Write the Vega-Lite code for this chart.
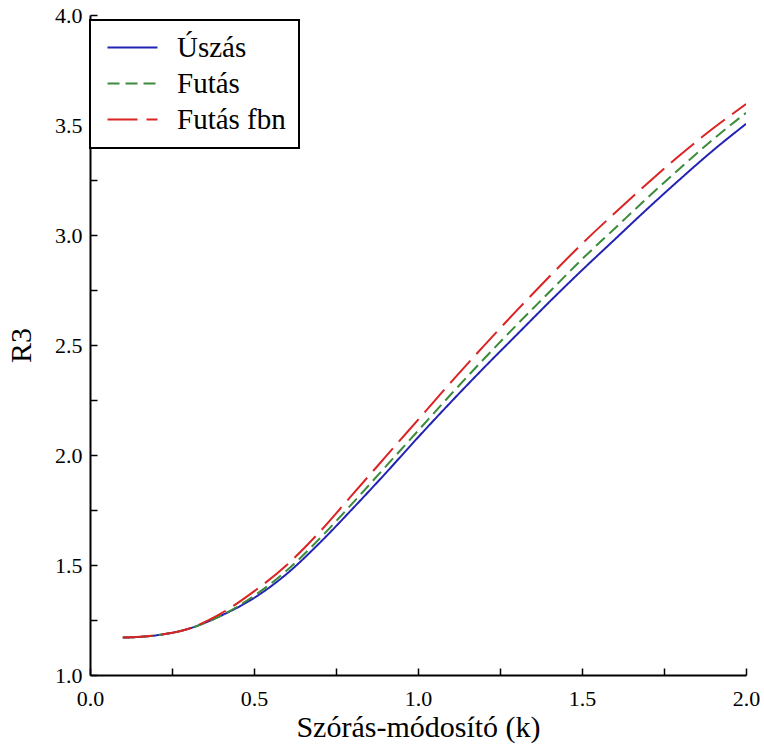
{
  "$schema": "https://vega.github.io/schema/vega-lite/v6.json",
  "width": 656,
  "height": 660,
  "autosize": "none",
  "padding": {"left": 90, "top": 15, "right": 18, "bottom": 72},
  "background": "white",
  "config": {
    "view": {"stroke": null},
    "font": "Liberation Serif, DejaVu Serif, serif"
  },
  "data": {
    "values": [
      {"k": 0.1, "R3": 1.17, "series": "Úszás"},
      {"k": 0.2, "R3": 1.18, "series": "Úszás"},
      {"k": 0.3, "R3": 1.21, "series": "Úszás"},
      {"k": 0.4, "R3": 1.27, "series": "Úszás"},
      {"k": 0.5, "R3": 1.35, "series": "Úszás"},
      {"k": 0.6, "R3": 1.46, "series": "Úszás"},
      {"k": 0.7, "R3": 1.6, "series": "Úszás"},
      {"k": 0.8, "R3": 1.755, "series": "Úszás"},
      {"k": 0.9, "R3": 1.915, "series": "Úszás"},
      {"k": 1.0, "R3": 2.08, "series": "Úszás"},
      {"k": 1.1, "R3": 2.24, "series": "Úszás"},
      {"k": 1.2, "R3": 2.395, "series": "Úszás"},
      {"k": 1.3, "R3": 2.545, "series": "Úszás"},
      {"k": 1.4, "R3": 2.695, "series": "Úszás"},
      {"k": 1.5, "R3": 2.84, "series": "Úszás"},
      {"k": 1.6, "R3": 2.98, "series": "Úszás"},
      {"k": 1.7, "R3": 3.12, "series": "Úszás"},
      {"k": 1.8, "R3": 3.255, "series": "Úszás"},
      {"k": 1.9, "R3": 3.385, "series": "Úszás"},
      {"k": 2.0, "R3": 3.505, "series": "Úszás"},
      {"k": 0.1, "R3": 1.17, "series": "Futás"},
      {"k": 0.2, "R3": 1.18, "series": "Futás"},
      {"k": 0.3, "R3": 1.21, "series": "Futás"},
      {"k": 0.4, "R3": 1.27, "series": "Futás"},
      {"k": 0.5, "R3": 1.36, "series": "Futás"},
      {"k": 0.6, "R3": 1.475, "series": "Futás"},
      {"k": 0.7, "R3": 1.62, "series": "Futás"},
      {"k": 0.8, "R3": 1.78, "series": "Futás"},
      {"k": 0.9, "R3": 1.945, "series": "Futás"},
      {"k": 1.0, "R3": 2.11, "series": "Futás"},
      {"k": 1.1, "R3": 2.275, "series": "Futás"},
      {"k": 1.2, "R3": 2.435, "series": "Futás"},
      {"k": 1.3, "R3": 2.59, "series": "Futás"},
      {"k": 1.4, "R3": 2.74, "series": "Futás"},
      {"k": 1.5, "R3": 2.89, "series": "Futás"},
      {"k": 1.6, "R3": 3.03, "series": "Futás"},
      {"k": 1.7, "R3": 3.17, "series": "Futás"},
      {"k": 1.8, "R3": 3.305, "series": "Futás"},
      {"k": 1.9, "R3": 3.435, "series": "Futás"},
      {"k": 2.0, "R3": 3.555, "series": "Futás"},
      {"k": 0.1, "R3": 1.17, "series": "Futás fbn"},
      {"k": 0.2, "R3": 1.18, "series": "Futás fbn"},
      {"k": 0.3, "R3": 1.21, "series": "Futás fbn"},
      {"k": 0.4, "R3": 1.28, "series": "Futás fbn"},
      {"k": 0.5, "R3": 1.38, "series": "Futás fbn"},
      {"k": 0.6, "R3": 1.5, "series": "Futás fbn"},
      {"k": 0.7, "R3": 1.65, "series": "Futás fbn"},
      {"k": 0.8, "R3": 1.82, "series": "Futás fbn"},
      {"k": 0.9, "R3": 1.99, "series": "Futás fbn"},
      {"k": 1.0, "R3": 2.16, "series": "Futás fbn"},
      {"k": 1.1, "R3": 2.33, "series": "Futás fbn"},
      {"k": 1.2, "R3": 2.495, "series": "Futás fbn"},
      {"k": 1.3, "R3": 2.655, "series": "Futás fbn"},
      {"k": 1.4, "R3": 2.81, "series": "Futás fbn"},
      {"k": 1.5, "R3": 2.96, "series": "Futás fbn"},
      {"k": 1.6, "R3": 3.1, "series": "Futás fbn"},
      {"k": 1.7, "R3": 3.235, "series": "Futás fbn"},
      {"k": 1.8, "R3": 3.365, "series": "Futás fbn"},
      {"k": 1.9, "R3": 3.485, "series": "Futás fbn"},
      {"k": 2.0, "R3": 3.595, "series": "Futás fbn"}
    ]
  },
  "mark": {"type": "line", "strokeWidth": 2, "interpolate": "monotone", "clip": true},
  "encoding": {
    "x": {
      "field": "k",
      "type": "quantitative",
      "scale": {"domain": [0, 2], "nice": false, "zero": false},
      "axis": {
        "title": "Szórás-módosító (k)",
        "values": [0, 0.25, 0.5, 0.75, 1, 1.25, 1.5, 1.75, 2],
        "labelExpr": "datum.value % 0.5 === 0 ? format(datum.value, '.1f') : ''",
        "grid": false,
        "domainColor": "black",
        "domainWidth": 2,
        "ticks": true,
        "tickColor": "black",
        "tickWidth": 1.5,
        "tickSize": -7,
        "labelFontSize": 22,
        "labelColor": "black",
        "labelPadding": 20,
        "labelFlush": false,
        "labelOverlap": false,
        "titleFontSize": 30,
        "titleFontWeight": "normal",
        "titleColor": "black",
        "titlePadding": 3
      }
    },
    "y": {
      "field": "R3",
      "type": "quantitative",
      "scale": {"domain": [1, 4], "nice": false, "zero": false},
      "axis": {
        "title": "R3",
        "values": [1, 1.25, 1.5, 1.75, 2, 2.25, 2.5, 2.75, 3, 3.25, 3.5, 3.75, 4],
        "labelExpr": "datum.value % 0.5 === 0 ? format(datum.value, '.1f') : ''",
        "grid": false,
        "domainColor": "black",
        "domainWidth": 2,
        "ticks": true,
        "tickColor": "black",
        "tickWidth": 1.5,
        "tickSize": -7,
        "labelFontSize": 22,
        "labelColor": "black",
        "labelPadding": 15,
        "labelFlush": false,
        "labelOverlap": false,
        "titleFontSize": 30,
        "titleFontWeight": "normal",
        "titleColor": "black",
        "titlePadding": 18
      }
    },
    "color": {
      "field": "series",
      "type": "nominal",
      "scale": {"domain": ["Úszás", "Futás", "Futás fbn"], "range": ["#2323b4", "#3a8c3a", "#dc2323"]},
      "legend": {
        "title": null,
        "orient": "none",
        "legendX": 0,
        "legendY": 5,
        "padding": 13,
        "symbolType": "M-2,0H2",
        "symbolSize": 625,
        "symbolStrokeWidth": 2,
        "symbolOffset": 15,
        "labelOffset": 30,
        "labelFontSize": 29,
        "labelColor": "black",
        "rowPadding": 6,
        "fillColor": "white",
        "strokeColor": "black",
        "encode": {"legend": {"update": {"strokeWidth": {"value": 2}}}}
      }
    },
    "strokeDash": {
      "field": "series",
      "type": "nominal",
      "scale": {"domain": ["Úszás", "Futás", "Futás fbn"], "range": [[1, 0], [12, 6], [30, 9]]},
      "legend": {
        "title": null,
        "orient": "none",
        "legendX": 0,
        "legendY": 5,
        "padding": 13,
        "symbolType": "M-2,0H2",
        "symbolSize": 625,
        "symbolStrokeWidth": 2,
        "symbolOffset": 15,
        "labelOffset": 30,
        "labelFontSize": 29,
        "labelColor": "black",
        "rowPadding": 6,
        "fillColor": "white",
        "strokeColor": "black",
        "encode": {"legend": {"update": {"strokeWidth": {"value": 2}}}}
      }
    }
  }
}
